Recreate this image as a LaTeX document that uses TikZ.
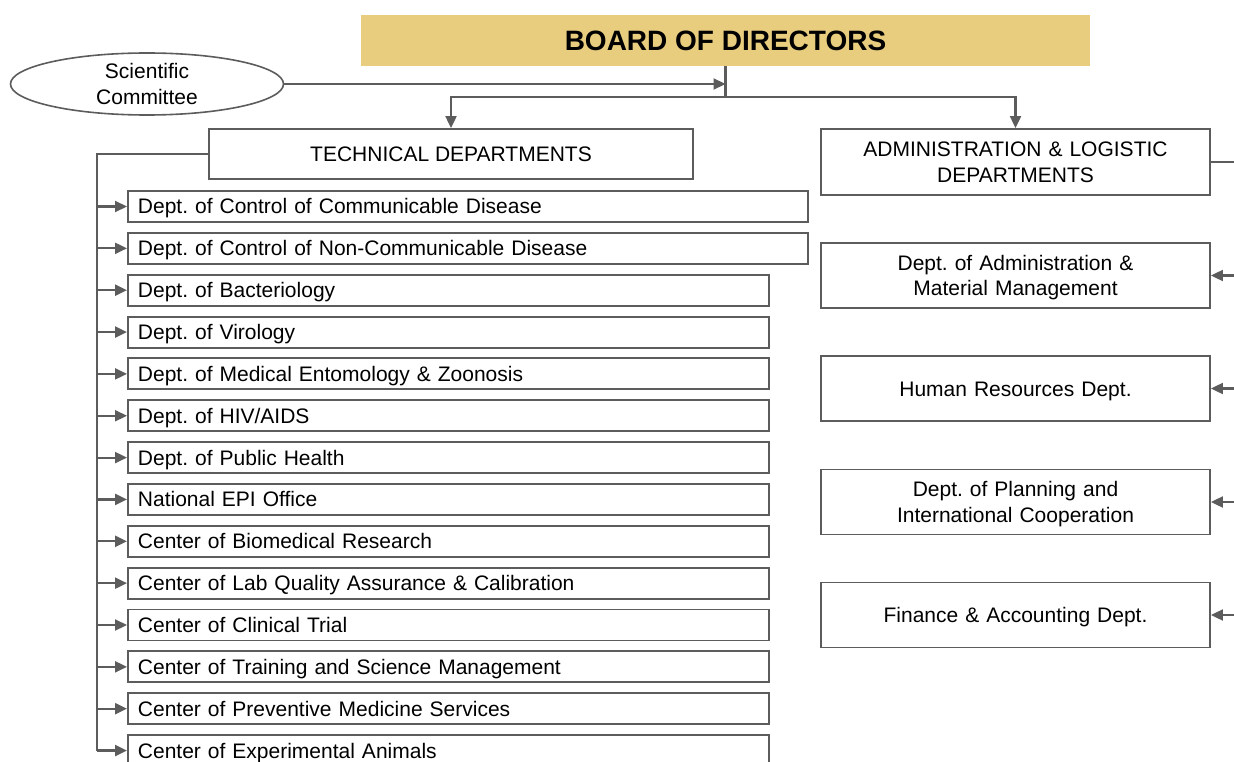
\documentclass[tikz,border=0pt]{standalone}
\usepackage{fontspec}
\setmainfont{Liberation Sans}
\usetikzlibrary{arrows.meta,shapes.geometric}
\definecolor{linegray}{RGB}{92,92,92}
\definecolor{boardgold}{RGB}{232,205,127}
\frenchspacing
\begin{document}
\begin{tikzpicture}[x=1pt,y=-1pt,
  conn/.style={draw=linegray,line width=2.2pt},
  arr/.style={conn,-{Triangle[length=12pt,width=11pt]}},
  box/.style={draw=linegray,line width=1.9pt,fill=white,inner sep=0pt,
    font=\fontsize{21}{25.5}\selectfont,align=center,
    execute at begin node={\rule{0pt}{20pt}},
    execute at end node={\rule[-5pt]{0pt}{0pt}}},
  dept/.style={box,anchor=west,minimum height=31pt,inner xsep=10pt,align=left},
  unit/.style={box,text width=389pt,minimum height=65pt}]
\useasboundingbox (0,0) rectangle (1234,762);

% top level
\node[fill=boardgold,minimum width=729pt,minimum height=51pt,inner sep=0pt,
  font=\bfseries\fontsize{28}{32}\selectfont] (board) at (725.5,40.5) {BOARD OF DIRECTORS};
\node[ellipse,draw=linegray,line width=1.6pt,minimum width=273pt,minimum height=62pt,
  inner sep=0pt,align=center,font=\fontsize{21}{26}\selectfont] (sci) at (147,84)
  {Scientific\\Committee};

% two branches
\node[box,minimum width=484pt,minimum height=50pt] (tech) at (451,154) {TECHNICAL DEPARTMENTS};
\node[box,text width=389pt,minimum height=66pt] (admin) at (1015.5,162)
  {ADMINISTRATION \& LOGISTIC\\DEPARTMENTS};

\coordinate (bus) at (725.5,97);
\draw[conn] (board.south) -- (bus);
\draw[arr] (sci.east) -- (sci.east -| board.south);
\draw[arr] (bus) -| (tech.north);
\draw[arr] (bus) -| (admin.north);

% technical departments
\coordinate (spine) at (97,154);
\foreach \txt [count=\i] in {
  Dept. of Control of Communicable Disease,
  Dept. of Control of Non-Communicable Disease,
  Dept. of Bacteriology,
  Dept. of Virology,
  Dept. of Medical Entomology \& Zoonosis,
  Dept. of HIV/AIDS,
  Dept. of Public Health,
  National EPI Office,
  Center of Biomedical Research,
  Center of Lab Quality Assurance \& Calibration,
  Center of Clinical Trial,
  Center of Training and Science Management,
  Center of Preventive Medicine Services,
  Center of Experimental Animals}{
  \pgfmathsetmacro{\yy}{206.5+41.85*(\i-1)}
  \ifnum\i<3 \def\tw{660}\else\def\tw{621}\fi
  \node[dept,text width=\tw pt] (d\i) at (127,\yy) {\txt};
  \draw[arr] (spine |- d\i.west) -- (d\i.west);
}
\draw[conn] (tech.west) -- (spine) -- (spine |- d14.west);

% administration & logistic departments
\node[unit] (r1) at (1015.5,275.5) {Dept. of Administration \&\\Material Management};
\node[unit] (r2) at (1015.5,388.5) {Human Resources Dept.};
\node[unit] (r3) at (1015.5,502) {Dept. of Planning and\\International Cooperation};
\node[unit] (r4) at (1015.5,615) {Finance \& Accounting Dept.};
\coordinate (rspine) at (1238,162);
\draw[conn] (admin.east) -- (rspine);
\foreach \i in {1,...,4}{
  \draw[arr] (rspine |- r\i.east) -- (r\i.east);
}
\end{tikzpicture}
\end{document}
